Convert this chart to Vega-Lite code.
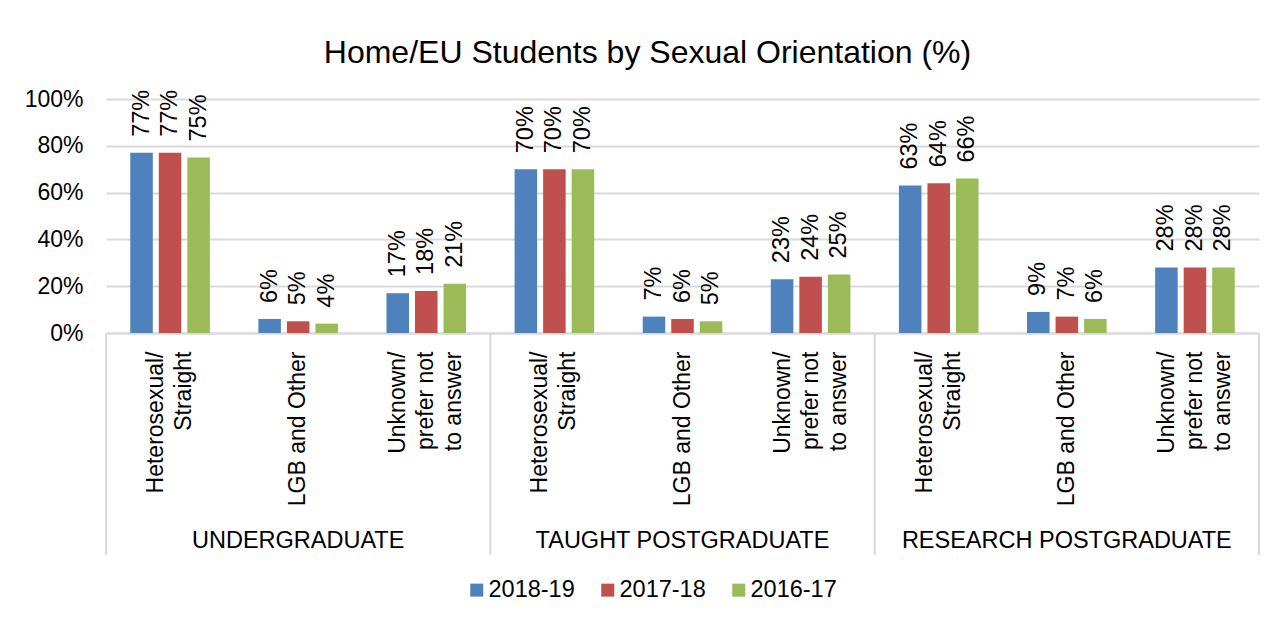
{
  "$schema": "https://vega.github.io/schema/vega-lite/v6.json",
  "width": 1153,
  "height": 234,
  "autosize": {"type": "none"},
  "padding": {"left": 106, "top": 99, "right": 28, "bottom": 285},
  "background": "white",
  "config": {
    "font": "Liberation Sans",
    "view": {"stroke": null},
    "axis": {"labelFont": "Liberation Sans", "labelFontSize": 23, "labelColor": "#000000"},
    "text": {"font": "Liberation Sans"}
  },
  "title": {
    "text": "Home/EU Students by Sexual Orientation (%)",
    "frame": "group",
    "anchor": "middle",
    "baseline": "alphabetic",
    "offset": -7,
    "dx": -35,
    "fontSize": 32,
    "font": "Liberation Sans",
    "fontWeight": "normal",
    "color": "#000000"
  },
  "data": {
    "values": [
      {"group": "UNDERGRADUATE", "category": "Heterosexual/ Straight", "series": "2018-19", "value": 0.77},
      {"group": "UNDERGRADUATE", "category": "Heterosexual/ Straight", "series": "2017-18", "value": 0.77},
      {"group": "UNDERGRADUATE", "category": "Heterosexual/ Straight", "series": "2016-17", "value": 0.75},
      {"group": "UNDERGRADUATE", "category": "LGB and Other", "series": "2018-19", "value": 0.06},
      {"group": "UNDERGRADUATE", "category": "LGB and Other", "series": "2017-18", "value": 0.05},
      {"group": "UNDERGRADUATE", "category": "LGB and Other", "series": "2016-17", "value": 0.04},
      {"group": "UNDERGRADUATE", "category": "Unknown/ prefer not to answer", "series": "2018-19", "value": 0.17},
      {"group": "UNDERGRADUATE", "category": "Unknown/ prefer not to answer", "series": "2017-18", "value": 0.18},
      {"group": "UNDERGRADUATE", "category": "Unknown/ prefer not to answer", "series": "2016-17", "value": 0.21},
      {"group": "TAUGHT POSTGRADUATE", "category": "Heterosexual/ Straight", "series": "2018-19", "value": 0.70},
      {"group": "TAUGHT POSTGRADUATE", "category": "Heterosexual/ Straight", "series": "2017-18", "value": 0.70},
      {"group": "TAUGHT POSTGRADUATE", "category": "Heterosexual/ Straight", "series": "2016-17", "value": 0.70},
      {"group": "TAUGHT POSTGRADUATE", "category": "LGB and Other", "series": "2018-19", "value": 0.07},
      {"group": "TAUGHT POSTGRADUATE", "category": "LGB and Other", "series": "2017-18", "value": 0.06},
      {"group": "TAUGHT POSTGRADUATE", "category": "LGB and Other", "series": "2016-17", "value": 0.05},
      {"group": "TAUGHT POSTGRADUATE", "category": "Unknown/ prefer not to answer", "series": "2018-19", "value": 0.23},
      {"group": "TAUGHT POSTGRADUATE", "category": "Unknown/ prefer not to answer", "series": "2017-18", "value": 0.24},
      {"group": "TAUGHT POSTGRADUATE", "category": "Unknown/ prefer not to answer", "series": "2016-17", "value": 0.25},
      {"group": "RESEARCH POSTGRADUATE", "category": "Heterosexual/ Straight", "series": "2018-19", "value": 0.63},
      {"group": "RESEARCH POSTGRADUATE", "category": "Heterosexual/ Straight", "series": "2017-18", "value": 0.64},
      {"group": "RESEARCH POSTGRADUATE", "category": "Heterosexual/ Straight", "series": "2016-17", "value": 0.66},
      {"group": "RESEARCH POSTGRADUATE", "category": "LGB and Other", "series": "2018-19", "value": 0.09},
      {"group": "RESEARCH POSTGRADUATE", "category": "LGB and Other", "series": "2017-18", "value": 0.07},
      {"group": "RESEARCH POSTGRADUATE", "category": "LGB and Other", "series": "2016-17", "value": 0.06},
      {"group": "RESEARCH POSTGRADUATE", "category": "Unknown/ prefer not to answer", "series": "2018-19", "value": 0.28},
      {"group": "RESEARCH POSTGRADUATE", "category": "Unknown/ prefer not to answer", "series": "2017-18", "value": 0.28},
      {"group": "RESEARCH POSTGRADUATE", "category": "Unknown/ prefer not to answer", "series": "2016-17", "value": 0.28}
    ]
  },
  "transform": [{"calculate": "datum.group + '|' + datum.category", "as": "key"}],
  "layer": [
    {
      "mark": {"type": "bar"},
      "encoding": {
        "x": {
          "field": "key",
          "type": "nominal",
          "sort": null,
          "scale": {"paddingInner": 0, "paddingOuter": 0},
          "axis": {
            "title": null,
            "labelAngle": 270,
            "labelAlign": "right",
            "labelBaseline": "middle",
            "labelPadding": 18,
            "labelLineHeight": 28,
            "labelOverlap": false,
            "labelBound": false,
            "labelLimit": 400,
            "labelOffset": {
              "condition": [
                {"test": "indexof(datum.value,'Heterosexual')>=0", "value": -14},
                {"test": "indexof(datum.value,'Unknown')>=0", "value": -28}
              ],
              "value": 0
            },
            "ticks": false,
            "grid": false,
            "domainColor": "#D9D9D9",
            "domainWidth": 2,
            "labelExpr": "indexof(datum.label,'Heterosexual')>=0 ? ['Heterosexual/','Straight'] : (indexof(datum.label,'Unknown')>=0 ? ['Unknown/','prefer not','to answer'] : 'LGB and Other')"
          }
        },
        "xOffset": {
          "field": "series",
          "type": "nominal",
          "sort": ["2018-19", "2017-18", "2016-17"],
          "scale": {"paddingInner": 0.21, "paddingOuter": 0.85}
        },
        "y": {
          "field": "value",
          "type": "quantitative",
          "scale": {"domain": [0, 1], "nice": false},
          "axis": {
            "title": null,
            "values": [0, 0.2, 0.4, 0.6, 0.8, 1],
            "format": ".0%",
            "domain": false,
            "ticks": false,
            "gridColor": "#D9D9D9",
            "gridWidth": 2,
            "labelPadding": 23
          }
        },
        "color": {
          "field": "series",
          "type": "nominal",
          "sort": ["2018-19", "2017-18", "2016-17"],
          "scale": {"domain": ["2018-19", "2017-18", "2016-17"], "range": ["#4F81BD", "#C0504D", "#9BBB59"]},
          "legend": {
            "orient": "none",
            "legendX": 359,
            "legendY": 479,
            "direction": "horizontal",
            "title": null,
            "symbolType": "square",
            "symbolSize": 169,
            "symbolStrokeWidth": 0,
            "labelFont": "Liberation Sans",
            "labelFontSize": 23.5,
            "labelColor": "#000000",
            "labelOffset": 0,
            "columnPadding": 21
          }
        }
      }
    },
    {
      "mark": {"type": "text", "angle": 270, "align": "left", "baseline": "middle", "dx": 16, "fontSize": 23.5, "color": "#000000"},
      "encoding": {
        "x": {"field": "key", "type": "nominal", "sort": null},
        "xOffset": {"field": "series", "type": "nominal", "sort": ["2018-19", "2017-18", "2016-17"]},
        "y": {"field": "value", "type": "quantitative", "scale": {"domain": [0, 1], "nice": false}},
        "text": {"field": "value", "type": "quantitative", "format": ".0%"}
      }
    },
    {
      "transform": [{"filter": "datum.category == 'Heterosexual/ Straight' && datum.series == '2018-19'"}],
      "mark": {"type": "rule", "color": "#D9D9D9", "strokeWidth": 2},
      "encoding": {
        "x": {"field": "key", "type": "nominal", "sort": null, "bandPosition": 0},
        "y": {"datum": 0, "scale": {"domain": [0, 1], "nice": false}},
        "y2": {"datum": -0.949}
      }
    },
    {
      "transform": [{"filter": "datum.group == 'RESEARCH POSTGRADUATE' && datum.category == 'Unknown/ prefer not to answer' && datum.series == '2018-19'"}],
      "mark": {"type": "rule", "color": "#D9D9D9", "strokeWidth": 2},
      "encoding": {
        "x": {"field": "key", "type": "nominal", "sort": null, "bandPosition": 1},
        "y": {"datum": 0, "scale": {"domain": [0, 1], "nice": false}},
        "y2": {"datum": -0.949}
      }
    },
    {
      "transform": [{"filter": "datum.category == 'LGB and Other' && datum.series == '2018-19'"}],
      "mark": {"type": "text", "baseline": "alphabetic", "align": "center", "fontSize": 23.5, "color": "#000000"},
      "encoding": {
        "x": {"field": "key", "type": "nominal", "sort": null},
        "y": {"datum": -0.919, "scale": {"domain": [0, 1], "nice": false}},
        "text": {"field": "group", "type": "nominal"}
      }
    }
  ]
}
